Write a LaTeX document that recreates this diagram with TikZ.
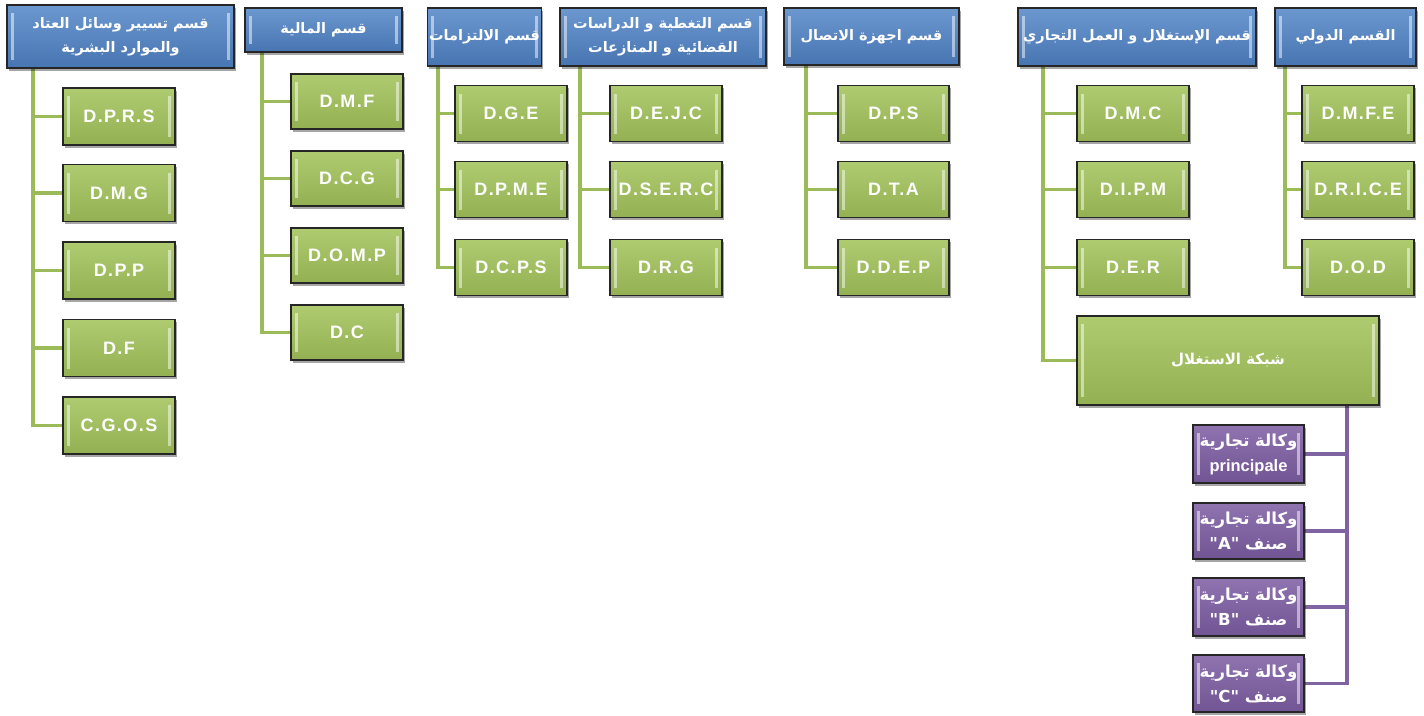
\documentclass[tikz,border=0pt]{standalone}
\usepackage{fontspec}
\setmainfont{Liberation Sans}
\newfontfamily\arabicfont[Script=Arabic]{DejaVu Sans}
\TeXXeTstate=1
\usetikzlibrary{shadows,backgrounds}

\definecolor{blueTop}{HTML}{6C98D0}
\definecolor{blueBot}{HTML}{4775B1}
\definecolor{greenTop}{HTML}{AECB70}
\definecolor{greenBot}{HTML}{93B152}
\definecolor{purpleTop}{HTML}{8F74B0}
\definecolor{purpleBot}{HTML}{715493}
\definecolor{greenLine}{HTML}{9BBB59}
\definecolor{purpleLine}{HTML}{8064A2}

\newcommand\artxt[1]{{\arabicfont\bfseries\beginR #1\endR}}

\tikzset{
  basebox/.style={draw=black!85, line width=1.1pt,
    drop shadow={shadow xshift=1.5pt, shadow yshift=-2.5pt, opacity=0.35, fill=black},
    text=white, align=center, inner sep=2pt, font=\bfseries,
    path picture={
      \fill[white, opacity=0.5]
        ([xshift=4pt,yshift=-8pt]path picture bounding box.north west) rectangle
        ([xshift=7pt,yshift=8pt]path picture bounding box.south west);
      \fill[white, opacity=0.5]
        ([xshift=-4pt,yshift=-8pt]path picture bounding box.north east) rectangle
        ([xshift=-7pt,yshift=8pt]path picture bounding box.south east);
    }},
  headbox/.style={basebox, top color=blueTop, bottom color=blueBot, font=\fontsize{14.5}{24}\selectfont},
  unitbox/.style={basebox, top color=greenTop, bottom color=greenBot,
    minimum width=112pt, minimum height=56pt,
    font=\fontsize{18}{20}\selectfont\bfseries\addfontfeature{LetterSpace=8}},
  agencybox/.style={basebox, top color=purpleTop, bottom color=purpleBot,
    minimum width=111pt, minimum height=57pt, font=\fontsize{16.5}{25}\selectfont\bfseries},
  gline/.style={draw=greenLine, line width=3.6pt},
  pline/.style={draw=purpleLine, line width=3.6pt},
}

\begin{document}
\begin{tikzpicture}[x=1pt, y=-1pt]
\useasboundingbox (0,0) rectangle (1424,715);

% department headers
\node[headbox, minimum width=227pt, minimum height=63pt] (h1) at (120.5,36.5)
  {\artxt{قسم تسيير وسائل العتاد}\\ \artxt{والموارد البشرية}};
\node[headbox, minimum width=157pt, minimum height=44pt] (h2) at (323.5,30)
  {\artxt{قسم المالية}};
\node[headbox, minimum width=113pt, minimum height=58pt] (h3) at (484.5,37)
  {\artxt{قسم الالتزامات}};
\node[headbox, minimum width=206pt, minimum height=58pt] (h4) at (663,37)
  {\artxt{قسم التغطية و الدراسات}\\ \artxt{القضائية و المنازعات}};
\node[headbox, minimum width=175pt, minimum height=57pt] (h5) at (871.5,36.5)
  {\artxt{قسم اجهزة الاتصال}};
\node[headbox, minimum width=238pt, minimum height=58pt] (h6) at (1137,37)
  {\artxt{قسم الإستغلال و العمل التجاري}};
\node[headbox, minimum width=141pt, minimum height=58pt] (h7) at (1345.5,37)
  {\artxt{القسم الدولي}};

% trunk positions
\coordinate (t1) at (33,0);
\coordinate (t2) at (262,0);
\coordinate (t3) at (438,0);
\coordinate (t4) at (580,0);
\coordinate (t5) at (806,0);
\coordinate (t6) at (1043,0);
\coordinate (t7) at (1285,0);
\coordinate (t8) at (1347,0);

% column 1
\node[unitbox, minimum height=57pt] (dprs) at (119,116.5) {D.P.R.S};
\node[unitbox, minimum height=57pt] (dmg)  at (119,193)   {D.M.G};
\node[unitbox, minimum height=57pt] (dpp)  at (119,270.5) {D.P.P};
\node[unitbox, minimum height=57pt] (df)   at (119,348)   {D.F};
\node[unitbox, minimum height=57pt] (cgos) at (119,425.5) {C.G.O.S};

% column 2
\node[unitbox, minimum height=55pt] (dmf)  at (347,101.5) {D.M.F};
\node[unitbox, minimum height=55pt] (dcg)  at (347,178.5) {D.C.G};
\node[unitbox, minimum height=55pt] (domp) at (347,255.5) {D.O.M.P};
\node[unitbox, minimum height=55pt] (dc)   at (347,332.5) {D.C};

% column 3
\node[unitbox] (dge)  at (511,113.5) {D.G.E};
\node[unitbox] (dpme) at (511,189.5) {D.P.M.E};
\node[unitbox] (dcps) at (511,267.5) {D.C.P.S};

% column 4
\node[unitbox] (dejc)  at (666,113.5) {D.E.J.C};
\node[unitbox] (dserc) at (666,189.5) {D.S.E.R.C};
\node[unitbox] (drg)   at (666,267.5) {D.R.G};

% column 5
\node[unitbox, minimum width=111pt] (dps)  at (893.5,113.5) {D.P.S};
\node[unitbox, minimum width=111pt] (dta)  at (893.5,189.5) {D.T.A};
\node[unitbox, minimum width=111pt] (ddep) at (893.5,267.5) {D.D.E.P};

% column 6
\node[unitbox] (dmc)  at (1133,113.5) {D.M.C};
\node[unitbox] (dipm) at (1133,189.5) {D.I.P.M};
\node[unitbox] (der)  at (1133,267.5) {D.E.R};
\node[unitbox, minimum width=302pt, minimum height=89pt,
      font=\fontsize{15}{18}\selectfont] (net) at (1228,360.5)
  {\artxt{شبكة الاستغلال}};

% column 7
\node[unitbox] (dmfe)  at (1358,113.5) {D.M.F.E};
\node[unitbox] (drice) at (1358,189.5) {D.R.I.C.E};
\node[unitbox] (dod)   at (1358,267.5) {D.O.D};

% commercial agencies
\node[agencybox, minimum height=58pt] (ag0) at (1248.5,454)
  {\artxt{وكالة تجارية}\\ principale};
\node[agencybox, minimum height=56pt] (aga) at (1248.5,531)
  {\artxt{وكالة تجارية}\\ \artxt{صنف "A"}};
\node[agencybox, minimum height=58pt] (agb) at (1248.5,607)
  {\artxt{وكالة تجارية}\\ \artxt{صنف "B"}};
\node[agencybox, minimum height=57pt] (agc) at (1248.5,683.5)
  {\artxt{وكالة تجارية}\\ \artxt{صنف "C"}};

% connectors
\begin{scope}[on background layer]
  \foreach \b in {dprs,dmg,dpp,df,cgos} \draw[gline] (t1 |- h1.south) |- (\b.west);
  \foreach \b in {dmf,dcg,domp,dc}      \draw[gline] (t2 |- h2.south) |- (\b.west);
  \foreach \b in {dge,dpme,dcps}        \draw[gline] (t3 |- h3.south) |- (\b.west);
  \foreach \b in {dejc,dserc,drg}       \draw[gline] (t4 |- h4.south) |- (\b.west);
  \foreach \b in {dps,dta,ddep}         \draw[gline] (t5 |- h5.south) |- (\b.west);
  \foreach \b in {dmc,dipm,der,net}     \draw[gline] (t6 |- h6.south) |- (\b.west);
  \foreach \b in {dmfe,drice,dod}       \draw[gline] (t7 |- h7.south) |- (\b.west);
  \foreach \b in {ag0,aga,agb,agc}      \draw[pline] (t8 |- net.south) |- (\b.east);
\end{scope}
\end{tikzpicture}
\end{document}
